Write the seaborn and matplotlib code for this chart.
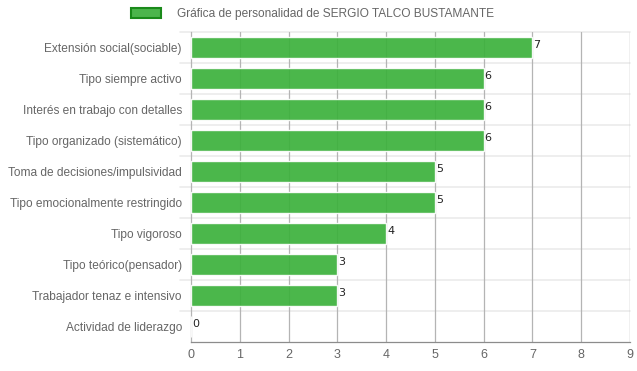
import matplotlib
matplotlib.use("Agg")
import matplotlib.pyplot as plt
import matplotlib.patches as mpatches
import seaborn as sns
import pandas as pd

categories = [
    "Extensión social(sociable)",
    "Tipo siempre activo",
    "Interés en trabajo con detalles",
    "Tipo organizado (sistemático)",
    "Toma de decisiones/impulsividad",
    "Tipo emocionalmente restringido",
    "Tipo vigoroso",
    "Tipo teórico(pensador)",
    "Trabajador tenaz e intensivo",
    "Actividad de liderazgo",
]
values = [7, 6, 6, 6, 5, 5, 4, 3, 3, 0]
x_ticks = [0, 1, 2, 3, 4, 5, 6, 7, 8, 9]
series_name = "Gráfica de personalidad de SERGIO TALCO BUSTAMANTE"

df = pd.DataFrame({"categoria": categories, "valor": values})

sns.set_theme(style="white")
plt.rcParams["font.family"] = ["Liberation Sans", "DejaVu Sans"]

fig = plt.figure(figsize=(6.37, 3.71), dpi=100)
ax = fig.add_axes([191 / 637, 1 - 342 / 371, (630 - 191) / 637, (342 - 32) / 371])

bar_color = "#3cb13c"
sns.barplot(data=df, y="categoria", x="valor", orient="h", color=bar_color,
            width=0.7, saturation=1, alpha=0.92, ax=ax, zorder=3)

ax.set_xlim(0, 9)
ax.set_ylim(len(categories) - 0.5, -0.5)
ax.set_xticks(x_ticks)
ax.set_xticklabels([str(t) for t in x_ticks])

# vertical grid at each x tick, light horizontal lines between categories
for t in x_ticks[1:]:
    ax.axvline(t, color="#b4b4b4", lw=0.9, zorder=1)
ax.axvline(9, color="#d0d0d0", lw=0.9, zorder=1)
for b in range(len(categories)):
    ax.plot([-0.23, 9], [b - 0.5, b - 0.5], color="#ebebeb", lw=1.2,
            zorder=0, clip_on=False)

for s in ["top", "right"]:
    ax.spines[s].set_visible(False)
ax.spines["left"].set_color("#b4b4b4")
ax.spines["bottom"].set_color("#8c8c8c")
ax.spines["left"].set_linewidth(0.9)
ax.spines["bottom"].set_linewidth(0.9)

ax.tick_params(axis="y", length=0, pad=6.5, labelsize=8.6, labelcolor="#666666")
ax.tick_params(axis="x", length=0, pad=5, labelsize=9, labelcolor="#666666")
ax.set_xlabel("")
ax.set_ylabel("")

# value labels at the end of each bar
for i, v in enumerate(values):
    ax.text(v + 0.02, i - 0.08, str(v), fontsize=8, color="#222222",
            ha="left", va="center", family=["DejaVu Sans Condensed", "DejaVu Sans"],
            zorder=4)

# legend box on top
handle = mpatches.Patch(facecolor="#4cb54c", edgecolor="#1a8a1a", linewidth=1.5,
                        label=series_name)
fig.legend(handles=[handle], loc="center", bbox_to_anchor=(0.4906, 1 - 14 / 371),
           frameon=False, fontsize=8.6, labelcolor="#666666",
           handlelength=2.5, handleheight=0.95, handletextpad=1.3)

fig.savefig("out.png", dpi=100)
